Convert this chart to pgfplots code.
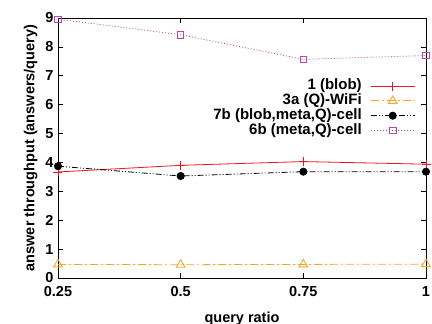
\documentclass[border=0pt]{standalone}
\usepackage{fontspec}
\setmainfont{Liberation Sans}
\usepackage{pgfplots}
\pgfplotsset{compat=1.18}
\definecolor{gred}{RGB}{240,20,30}
\definecolor{gorange}{RGB}{245,165,40}
\definecolor{gmag}{RGB}{190,70,170}
\begin{document}
\begin{tikzpicture}
\begin{axis}[
  scale only axis, width=368pt, height=260pt,
  xmin=0.25, xmax=1, ymin=0, ymax=9,
  xtick={0.25,0.5,0.75,1}, xticklabels={0.25,0.5,0.75,1},
  ytick={0,1,...,9},
  tick align=inside, major tick length=5pt,
  axis line style={line width=0.9pt}, every tick/.style={black, line width=0.6pt},
  /pgf/number format/assume math mode=true,
  tick label style={font=\fontsize{14.5}{16}\selectfont\bfseries},
  label style={font=\fontsize{14.5}{16}\selectfont\bfseries},
  xticklabel style={yshift=-5pt},
  yticklabel style={xshift=-1pt},
  xlabel={query ratio}, ylabel={answer throughput (answers/query)},
  xlabel style={yshift=-8pt}, ylabel style={yshift=1pt},
  legend plot pos=right,
  legend cell align=right,
  legend style={draw=none, fill=none, at={(0.978,0.775)}, anchor=north east,
    font=\fontsize{15}{16}\selectfont\bfseries, row sep=0pt, column sep=9pt,
    nodes={inner sep=0pt, text height=11pt, text depth=3.8pt}},
  legend image code/.code={\draw[overlay,mark repeat=2,mark phase=2] plot coordinates {(0pt,0pt) (22pt,0pt) (44pt,0pt)};\pgfpathrectangle{\pgfpoint{0pt}{-3pt}}{\pgfpoint{44pt}{6pt}}\pgfusepath{}},
]
\addplot[gred, line width=0.8pt, mark=+, mark size=4.5pt, mark options={solid}]
  coordinates {(0.25,3.67) (0.5,3.90) (0.75,4.03) (1,3.94)};
\addlegendentry{1 (blob)}
\addplot[gorange, line width=0.8pt, dash pattern=on 8pt off 3pt on 2pt off 3pt, mark=triangle, mark size=5pt, mark options={solid, line width=0.9pt}]
  coordinates {(0.25,0.47) (0.5,0.46) (0.75,0.47) (1,0.48)};
\addlegendentry{3a (Q)-WiFi}
\addplot[black, line width=0.8pt, dash pattern=on 6pt off 2pt on 1pt off 2pt on 1pt off 2pt, mark=*, mark size=3.6pt, mark options={solid}]
  coordinates {(0.25,3.87) (0.5,3.53) (0.75,3.68) (1,3.68)};
\addlegendentry{7b (blob,meta,Q)-cell}
\addplot[gmag, line width=0.8pt, dash pattern=on 1pt off 2pt, mark=square, mark size=3.2pt, mark options={solid, line width=0.8pt}]
  coordinates {(0.25,8.96) (0.5,8.42) (0.75,7.57) (1,7.70)};
\addlegendentry{6b (meta,Q)-cell}
\end{axis}
\pgfresetboundingbox
\path (current axis.south west) ++(-58pt,-46pt) coordinate (a);
\path (current axis.north east) ++(6pt,18pt) coordinate (b);
\useasboundingbox (a) rectangle (b);
\end{tikzpicture}
\end{document}
